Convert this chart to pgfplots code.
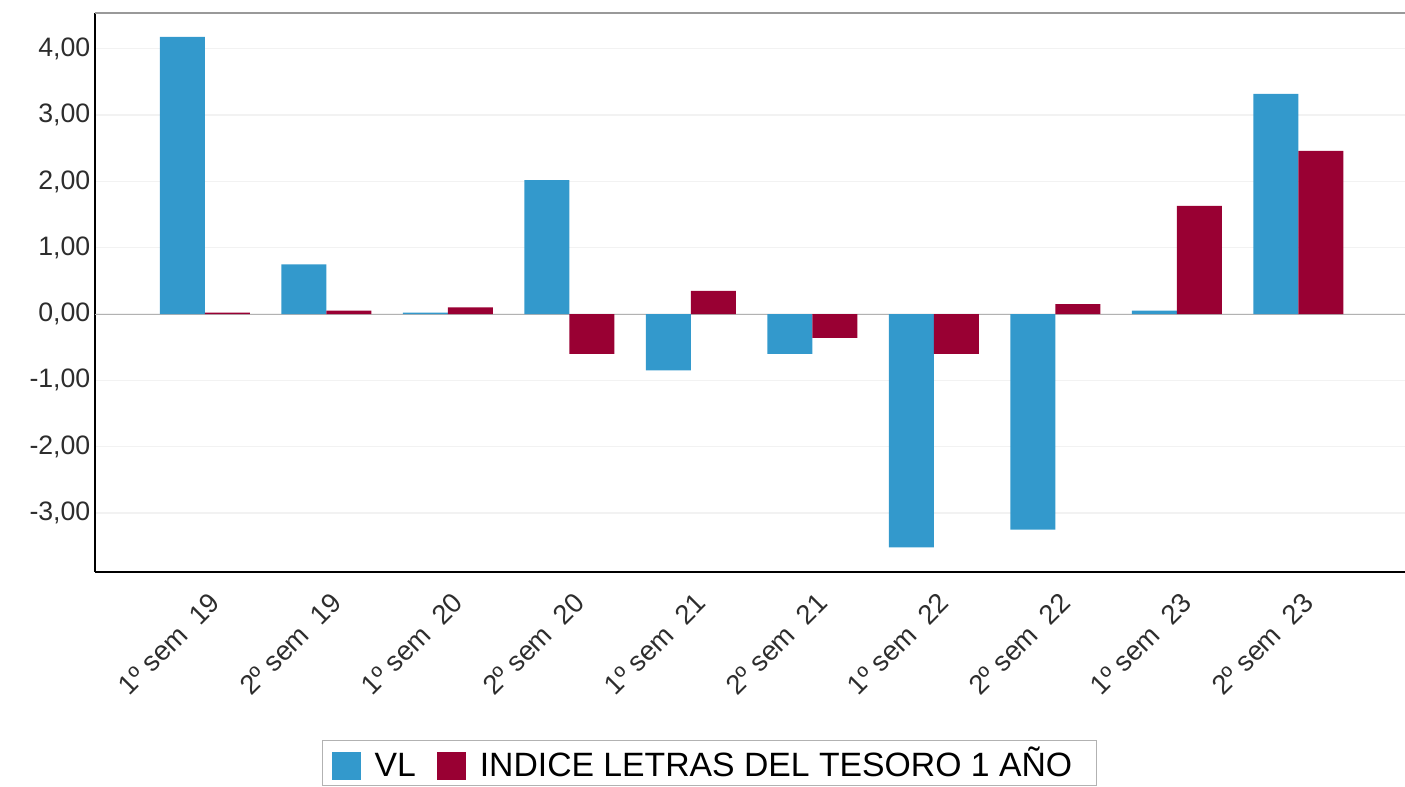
\documentclass[border=0pt]{standalone}
\usepackage{pgfplots}
\pgfplotsset{compat=1.18}
\usepackage{fontspec}
\setmainfont{Liberation Sans}
\definecolor{vlblue}{RGB}{51,153,204}
\definecolor{idxred}{RGB}{153,0,51}
\definecolor{tickgray}{RGB}{45,45,45}
\begin{document}
\begin{tikzpicture}
\useasboundingbox (-71.25pt,-161.25pt) rectangle (982.5pt,429pt);
\begin{axis}[
  at={(0pt,0pt)}, anchor=south west,
  scale only axis,
  width=982.5pt, height=419.25pt,
  xmin=-0.905, xmax=9.877,
  ymin=-3.89, ymax=4.54,
  ybar=0pt, bar width=33.75pt,
  xtick={0,...,9},
  xticklabels={1º sem \ 19,2º sem \ 19,1º sem \ 20,2º sem \ 20,1º sem \ 21,2º sem \ 21,1º sem \ 22,2º sem \ 22,1º sem \ 23,2º sem \ 23},
  xticklabel style={xshift=10pt, yshift=-17pt, rotate=45, anchor=east, font=\fontsize{20.5}{24}\selectfont, text=tickgray},
  ytick={-3,-2,-1,0,1,2,3,4},
  yticklabel style={font=\fontsize{20}{24}\selectfont, text=tickgray},
  /pgf/number format/.cd, fixed, fixed zerofill, precision=2, use comma, assume math mode=true,
  /pgfplots/.cd,
  major tick length=0pt,
  ymajorgrids, grid style={draw=black!5, line width=1pt},
  extra y ticks={0}, extra y tick labels={},
  extra y tick style={grid style={draw=black!30, line width=0.8pt}},
  axis x line*=bottom, axis y line*=left,
  axis line style={draw=black, line width=1.5pt, -},
  legend columns=2,
  legend style={at={(0.1733,-0.3005)}, anchor=north west, draw=black!30, line width=0.8pt,
    font=\fontsize{25.3}{30}\selectfont, inner xsep=7pt, inner ysep=3pt,
    /tikz/every odd column/.append style={column sep=8pt},
    /tikz/every even column/.append style={column sep=14pt}},
  legend image code/.code={\fill[#1] (0pt,-13pt) rectangle (22pt,8.5pt);},
]
\addplot[fill=vlblue, draw=none] coordinates {(0,4.18) (1,0.75) (2,0.02) (3,2.02) (4,-0.85) (5,-0.60) (6,-3.52) (7,-3.25) (8,0.05) (9,3.32)};
\addplot[fill=idxred, draw=none] coordinates {(0,0.02) (1,0.05) (2,0.10) (3,-0.60) (4,0.35) (5,-0.36) (6,-0.60) (7,0.15) (8,1.63) (9,2.46)};
\legend{VL\vphantom{Ñ}, INDICE LETRAS DEL TESORO 1 AÑO\rule{9pt}{0pt}}
\draw[black!40, line width=1.5pt] (rel axis cs:0,1) -- (rel axis cs:1,1);
\end{axis}
\end{tikzpicture}
\end{document}
